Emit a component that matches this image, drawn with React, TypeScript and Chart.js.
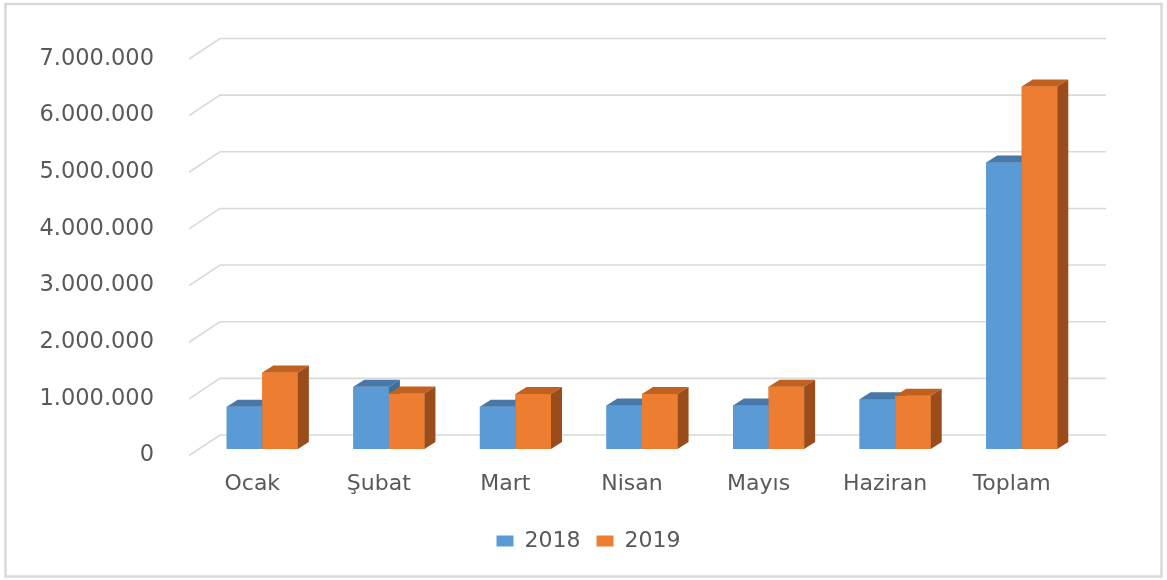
import React, { useEffect, useRef } from "react";
import { Chart, registerables } from "chart.js";

Chart.register(...registerables);

const categories = ["Ocak", "Şubat", "Mart", "Nisan", "Mayıs", "Haziran", "Toplam"];
const series2018 = [745000, 1100000, 745000, 770000, 770000, 880000, 5060000];
const series2019 = [1350000, 980000, 970000, 970000, 1100000, 940000, 6400000];
const seriesLabels = ["2018", "2019"];
const yMax = 7000000;
const yStep = 1000000;

const FRONT = ["#5B9BD5", "#ED7D31"];
const TOP = ["#4878A8", "#C0611F"];
const SIDE = ["#3E6D99", "#9A4C1A"];

const BACK_DX = 31;
const BACK_DY = -20.5;
const BAR_DX = 10;
const BAR_DY = -6.5;
const DEPTH_DX = 11;
const DEPTH_DY = -7;

const fmt = (v: number) =>
  Math.round(v).toString().replace(/\B(?=(\d{3})+(?!\d))/g, ".");

const threeD = {
  id: "threeD",
  beforeDraw(chart: any) {
    const { ctx, width, height } = chart;
    ctx.save();
    ctx.fillStyle = "#ffffff";
    ctx.fillRect(0, 0, width, height);
    ctx.strokeStyle = "#d9d9d9";
    ctx.lineWidth = 2.5;
    ctx.strokeRect(5.5, 4, width - 11, height - 7.5);
    ctx.restore();
  },
  beforeDatasetsDraw(chart: any) {
    const { ctx, chartArea } = chart;
    const y = chart.scales.y;
    ctx.save();
    ctx.strokeStyle = "#d9d9d9";
    ctx.lineWidth = 1.6;
    for (let v = 0; v <= yMax; v += yStep) {
      const yf = y.getPixelForValue(v);
      ctx.beginPath();
      ctx.moveTo(chartArea.left, yf);
      ctx.lineTo(chartArea.left + BACK_DX, yf + BACK_DY);
      ctx.lineTo(chartArea.right + BACK_DX, yf + BACK_DY);
      ctx.stroke();
    }
    ctx.restore();
    ctx.save();
    ctx.translate(BAR_DX, BAR_DY);
  },
  afterDatasetsDraw(chart: any) {
    const { ctx } = chart;
    // redraw every column face in depth order so that each series' side face
    // is covered by the next series' front face
    chart.data.datasets.forEach((_ds: any, di: number) => {
      const meta = chart.getDatasetMeta(di);
      meta.data.forEach((bar: any) => {
        const p = bar.getProps(["x", "y", "base", "width"], true);
        const l = p.x - p.width / 2;
        const r = p.x + p.width / 2;
        const t = p.y;
        const b = p.base;
        ctx.fillStyle = FRONT[di];
        ctx.fillRect(l, t, r - l, b - t);
        ctx.fillStyle = TOP[di];
        ctx.beginPath();
        ctx.moveTo(l, t);
        ctx.lineTo(r, t);
        ctx.lineTo(r + DEPTH_DX, t + DEPTH_DY);
        ctx.lineTo(l + DEPTH_DX, t + DEPTH_DY);
        ctx.closePath();
        ctx.fill();
        ctx.fillStyle = SIDE[di];
        ctx.beginPath();
        ctx.moveTo(r, t);
        ctx.lineTo(r + DEPTH_DX, t + DEPTH_DY);
        ctx.lineTo(r + DEPTH_DX, b + DEPTH_DY);
        ctx.lineTo(r, b);
        ctx.closePath();
        ctx.fill();
      });
    });
    ctx.restore();
  },
};

export default function App() {
  const ref = useRef<HTMLCanvasElement | null>(null);
  useEffect(() => {
    if (!ref.current) return;
    const font = { family: "'DejaVu Sans', sans-serif", size: 22 };
    const chart = new Chart(ref.current, {
      type: "bar",
      data: {
        labels: categories,
        datasets: [
          {
            label: seriesLabels[0],
            data: series2018,
            backgroundColor: FRONT[0],
            categoryPercentage: 0.562,
            barPercentage: 1.0,
          },
          {
            label: seriesLabels[1],
            data: series2019,
            backgroundColor: FRONT[1],
            categoryPercentage: 0.562,
            barPercentage: 1.0,
          },
        ],
      },
      options: {
        animation: false,
        responsive: false,
        maintainAspectRatio: false,
        layout: { padding: { top: 59, left: 10, right: 0, bottom: 18 } },
        plugins: {
          tooltip: { enabled: false },
          legend: {
            position: "bottom",
            labels: {
              color: "#595959",
              font,
              boxWidth: 17,
              boxHeight: 11,
              padding: 16,
            },
          },
        },
        scales: {
          x: {
            grid: { display: false },
            border: { display: false },
            ticks: { color: "#595959", font, padding: 8 },
            afterFit: (s: any) => {
              s.height = 58.5;
            },
          },
          y: {
            min: 0,
            max: yMax,
            grid: { display: false },
            border: { display: false },
            ticks: {
              stepSize: yStep,
              color: "#595959",
              font: { family: "'DejaVu Sans', sans-serif", size: 22.5 },
              padding: 27,
              callback: (v: any) => fmt(Number(v)),
            },
            afterFit: (s: any) => {
              s.width = 179;
            },
          },
          yR: {
            position: "right",
            display: true,
            grid: { display: false },
            border: { display: false },
            ticks: { display: false },
            afterFit: (s: any) => {
              s.width = 92;
            },
          },
        },
      },
      plugins: [threeD],
    } as any);
    return () => chart.destroy();
  }, []);
  return (
    <div style={{ position: "absolute", left: 0, top: 0, width: 1167, height: 580 }}>
      <canvas ref={ref} width={1167} height={580} />
    </div>
  );
}
